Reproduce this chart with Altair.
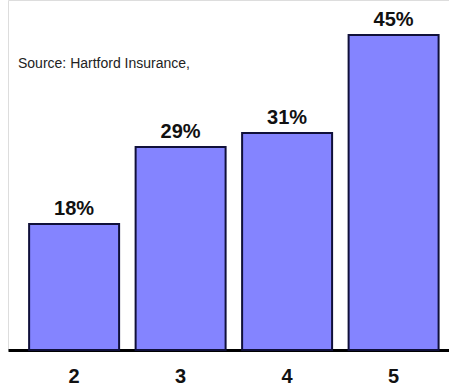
import altair as alt
import pandas as pd

categories = ["2", "3", "4", "5"]
values = [18, 29, 31, 45]
labels = ["18%", "29%", "31%", "45%"]
source_note = "Source: Hartford Insurance,"

df = pd.DataFrame({"cat": categories, "val": values, "lab": labels})

x = alt.X("cat:N", sort=categories,
          scale=alt.Scale(paddingInner=0.155, paddingOuter=0.148, align=0.67),
          axis=alt.Axis(title=None, labelAngle=0, ticks=False, domainColor="#000000",
                        domainWidth=3, labelFont="Liberation Sans", labelFontSize=20,
                        labelFontWeight="bold", labelColor="#111111", labelPadding=16))
y = alt.Y("val:Q", scale=alt.Scale(domain=[0, 50], nice=False), axis=None)

base = alt.Chart(df)
bars = base.mark_bar(color="#8484FF", stroke="#10103A", strokeWidth=2).encode(x=x, y=y)
text = base.mark_text(dy=-5, baseline="bottom", font="Liberation Sans", fontSize=20,
                      fontWeight="bold", color="#111111").encode(x=x, y=y, text="lab:N")
note = alt.Chart(pd.DataFrame({"t": [source_note]})).mark_text(
    align="left", baseline="middle", font="Liberation Sans", fontSize=14, color="#222222"
).encode(x=alt.value(10), y=alt.value(64), text="t:N")

chart = alt.layer(bars, text, note).properties(
    width=441, height=350, padding={"left": 8, "right": 0, "top": 0, "bottom": 0}
).configure_view(stroke=None).configure(background="#FFFFFF")

chart.save("out.html", embed_options={"renderer": "svg", "actions": False})
